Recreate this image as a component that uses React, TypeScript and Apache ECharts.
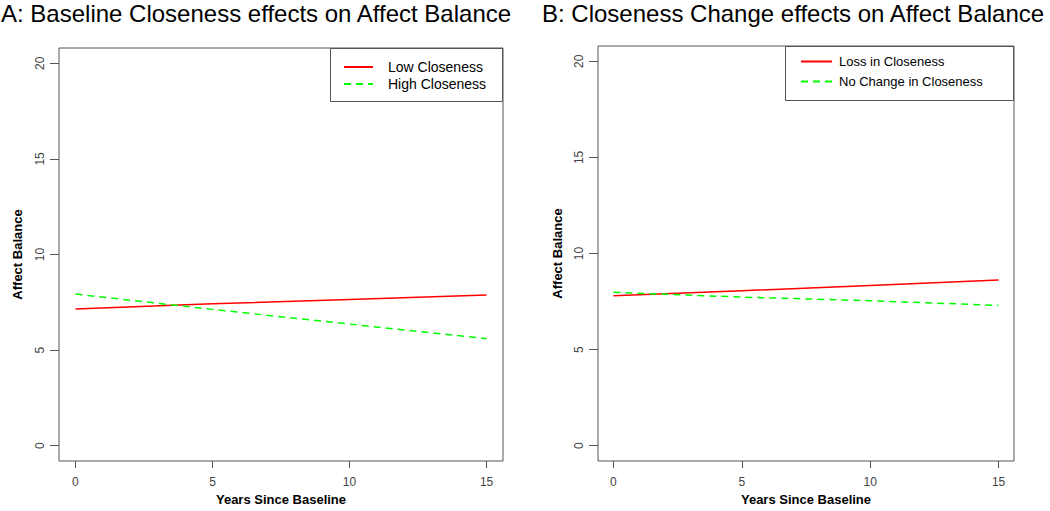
import React, { useEffect, useRef } from "react";
import * as echarts from "echarts";

const years = [0, 5, 10, 15];
const lowCloseness = [7.15, 7.42, 7.65, 7.88];
const highCloseness = [7.93, 7.13, 6.36, 5.6];
const lossCloseness = [7.8, 8.06, 8.34, 8.62];
const noChangeCloseness = [7.98, 7.73, 7.54, 7.3];
const xTicks = [0, 5, 10, 15];
const yTicks = [0, 5, 10, 15, 20];

const FONT = "Liberation Sans, Arial, sans-serif";

const pairs = (xs: number[], ys: number[]) => xs.map((x, i) => [x, ys[i]]);

export default function App() {
  const ref = useRef<HTMLDivElement>(null);
  useEffect(() => {
    if (!ref.current) return;
    const chart = echarts.init(ref.current, undefined, { renderer: "svg" });
    const grids = [
      { left: 59, top: 48, width: 444, height: 420 },
      { left: 598, top: 46, width: 416, height: 421 },
    ];
    const xAxis = grids.map((_, i) => ({
      type: "value",
      gridIndex: i,
      min: -0.6,
      max: 15.6,
      name: "Years Since Baseline",
      nameLocation: "middle",
      nameGap: 32,
      nameTextStyle: { fontFamily: FONT, fontSize: 13, fontWeight: "bold", color: "#000" },
      axisLine: { show: false, onZero: false },
      splitLine: { show: false },
      axisTick: { show: true, inside: false, length: 7, customValues: xTicks, lineStyle: { color: "#555" } },
      axisLabel: {
        customValues: xTicks,
        margin: 15,
        fontFamily: FONT,
        fontSize: 12,
        color: "#444",
      },
    }));
    const yAxis = grids.map((_, i) => ({
      type: "value",
      gridIndex: i,
      min: -0.8,
      max: 20.8,
      name: "Affect Balance",
      nameLocation: "middle",
      nameGap: i === 0 ? 35 : 34,
      nameRotate: 90,
      nameTextStyle: { fontFamily: FONT, fontSize: 13, fontWeight: "bold", color: "#000" },
      axisLine: { show: false, onZero: false },
      splitLine: { show: false },
      axisTick: { show: true, inside: false, length: 9, customValues: yTicks, lineStyle: { color: "#555" } },
      axisLabel: {
        customValues: yTicks,
        rotate: 90,
        margin: 13,
        fontFamily: FONT,
        fontSize: 12,
        color: "#444",
      },
    }));
    chart.setOption({
      animation: false,
      backgroundColor: "#fff",
      title: [
        {
          text: "A: Baseline Closeness effects on Affect Balance",
          left: 1,
          top: 1,
          padding: 0,
          textStyle: { fontFamily: FONT, fontSize: 24, fontWeight: "normal", color: "#000" },
        },
        {
          text: "B: Closeness Change effects on Affect Balance",
          left: 542,
          top: 1,
          padding: 0,
          textStyle: { fontFamily: FONT, fontSize: 24, fontWeight: "normal", color: "#000" },
        },
      ],
      grid: grids.map((g) => ({ ...g, show: true, borderColor: "#555", borderWidth: 1, backgroundColor: "transparent" })),
      xAxis,
      yAxis,
      legend: [
        {
          data: ["Low Closeness", "High Closeness"],
          orient: "vertical",
          left: 343,
          top: 60,
          padding: 0,
          z: 20,
          itemWidth: 29,
          itemHeight: 14,
          itemGap: 3,
          itemStyle: { opacity: 0 },
          textStyle: { fontFamily: FONT, fontSize: 14, color: "#000", padding: [0, 0, 0, 10] },
        },
        {
          data: ["Loss in Closeness", "No Change in Closeness"],
          orient: "vertical",
          left: 800,
          top: 55,
          padding: 0,
          z: 20,
          itemWidth: 31,
          itemHeight: 14,
          itemGap: 7,
          itemStyle: { opacity: 0 },
          textStyle: { fontFamily: FONT, fontSize: 13, color: "#000", padding: [0, 0, 0, 2] },
        },
      ],
      graphic: [
        { type: "rect", shape: { x: 330.5, y: 48.5, width: 172, height: 53 }, style: { fill: "#fff", stroke: "#555", lineWidth: 1 }, z: 1 },
        { type: "rect", shape: { x: 785.5, y: 46.5, width: 228, height: 54 }, style: { fill: "#fff", stroke: "#555", lineWidth: 1 }, z: 1 },
      ],
      series: [
        {
          name: "Low Closeness",
          type: "line",
          xAxisIndex: 0,
          yAxisIndex: 0,
          data: pairs(years, lowCloseness),
          symbol: "none",
          lineStyle: { color: "#ff0000", width: 1.5 },
          itemStyle: { color: "#ff0000" },
        },
        {
          name: "High Closeness",
          type: "line",
          xAxisIndex: 0,
          yAxisIndex: 0,
          data: pairs(years, highCloseness),
          symbol: "none",
          lineStyle: { color: "#00ff00", width: 1.5, type: [7, 5] },
          itemStyle: { color: "#00ff00" },
        },
        {
          name: "Loss in Closeness",
          type: "line",
          xAxisIndex: 1,
          yAxisIndex: 1,
          data: pairs(years, lossCloseness),
          symbol: "none",
          lineStyle: { color: "#ff0000", width: 1.5 },
          itemStyle: { color: "#ff0000" },
        },
        {
          name: "No Change in Closeness",
          type: "line",
          xAxisIndex: 1,
          yAxisIndex: 1,
          data: pairs(years, noChangeCloseness),
          symbol: "none",
          lineStyle: { color: "#00ff00", width: 1.5, type: [7, 5] },
          itemStyle: { color: "#00ff00" },
        },
      ],
    });
    return () => chart.dispose();
  }, []);
  return (
    <div
      ref={ref}
      style={{ position: "fixed", left: 0, top: 0, width: 1050, height: 511, background: "#fff" }}
    />
  );
}
